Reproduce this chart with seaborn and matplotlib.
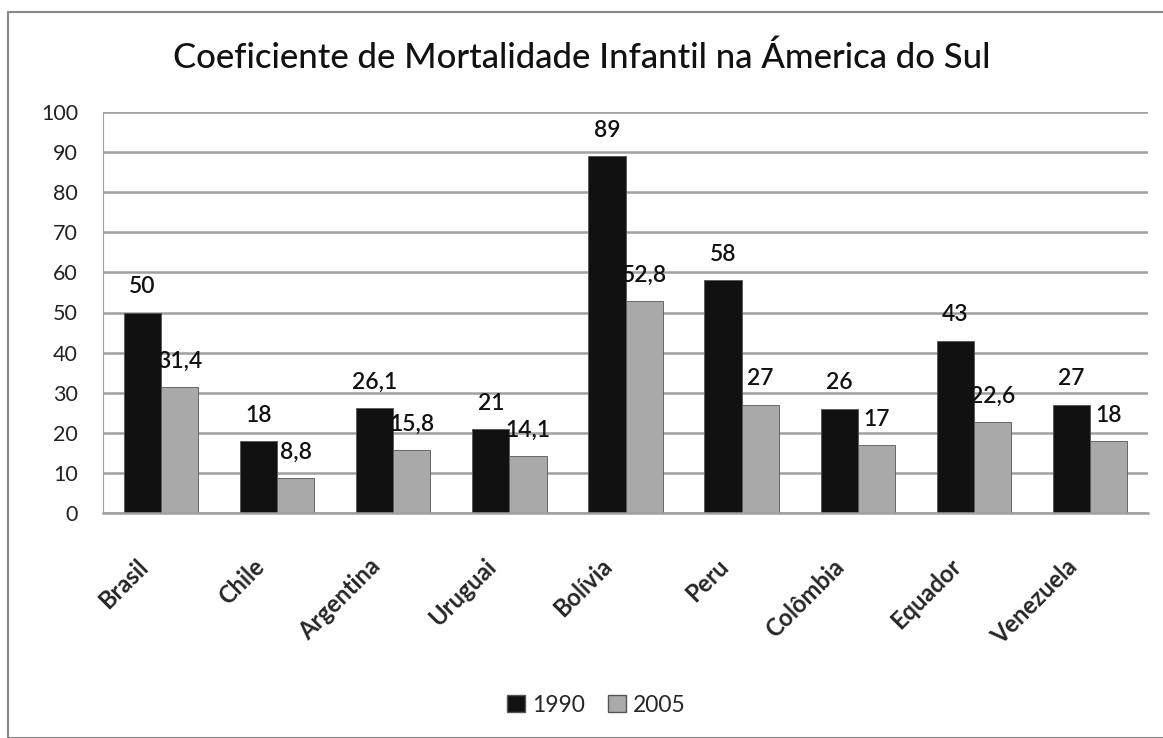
import matplotlib
matplotlib.use("Agg")
import matplotlib.pyplot as plt
import matplotlib.transforms as mtransforms
import seaborn as sns
import pandas as pd
from matplotlib.patches import Rectangle

paises = ["Brasil", "Chile", "Argentina", "Uruguai", "Bolívia", "Peru", "Colômbia", "Equador", "Venezuela"]
valores_1990 = [50, 18, 26.1, 21, 89, 58, 26, 43, 27]
valores_2005 = [31.4, 8.8, 15.8, 14.1, 52.8, 27, 17, 22.6, 18]
anos = ["1990", "2005"]
cores = ["#111111", "#a9a9a9"]

df = pd.DataFrame({
    "País": paises * 2,
    "Ano": [anos[0]] * len(paises) + [anos[1]] * len(paises),
    "Valor": valores_1990 + valores_2005,
})

sns.set_style("white")
plt.rcParams['font.family'] = ['Lato', 'DejaVu Sans']

fig = plt.figure(figsize=(11.63, 7.38), dpi=100)
ax = fig.add_axes([103/1163, 1 - 513/738, (1148-103)/1163, (513-112)/738])

sns.barplot(data=df, x="País", y="Valor", hue="Ano", palette=cores, width=0.64,
            ax=ax, edgecolor="#555555", linewidth=0.6, legend=False, saturation=1)

def fmt(v):
    s = f"{v:g}"
    return s.replace(".", ",")

for cont in ax.containers:
    labels = [fmt(b.get_height()) for b in cont]
    ax.bar_label(cont, labels=labels, padding=11, fontsize=16.5, fontweight="semibold",
                 color="#111111")

ax.set_ylim(0, 100)
ax.set_yticks(range(0, 101, 10))
ax.yaxis.grid(True, color="#a0a0a0", linewidth=1.8)
ax.set_axisbelow(True)
ax.set_xlabel("")
ax.set_ylabel("")
for s in ["top", "right"]:
    ax.spines[s].set_visible(False)
ax.spines["left"].set_color("#a0a0a0")
ax.spines["bottom"].set_color("#a0a0a0")
ax.spines["bottom"].set_linewidth(1.8)
ax.tick_params(axis="y", labelsize=15.5, colors="#222222", pad=18, length=0)
ax.tick_params(axis="x", labelsize=17, length=0, pad=30)
offset = mtransforms.ScaledTranslation(-25/100, 0, fig.dpi_scale_trans)
for lbl in ax.get_xticklabels():
    lbl.set_rotation(45)
    lbl.set_ha("right")
    lbl.set_rotation_mode("anchor")
    lbl.set_fontweight("bold")
    lbl.set_transform(lbl.get_transform() + offset)

fig.text(0.5, 1 - 58/738, "Coeficiente de Mortalidade Infantil na Ámerica do Sul",
         ha="center", va="center", fontsize=25, color="#111111", fontweight="medium")

handles = [Rectangle((0, 0), 1, 1, facecolor=c, edgecolor="#555555") for c in cores]
fig.legend(handles, anos, loc="center", bbox_to_anchor=(596/1163, 1 - 705/738), ncol=2,
           frameon=False, fontsize=16.5, handlelength=0.8, handleheight=0.8, handletextpad=0.3,
           columnspacing=1.0)

fig.patches.append(Rectangle((8/1163, 0), 1, 1 - 12/738, transform=fig.transFigure,
                             fill=False, edgecolor="#888888", linewidth=1.5))

fig.savefig("out.png", dpi=100)
